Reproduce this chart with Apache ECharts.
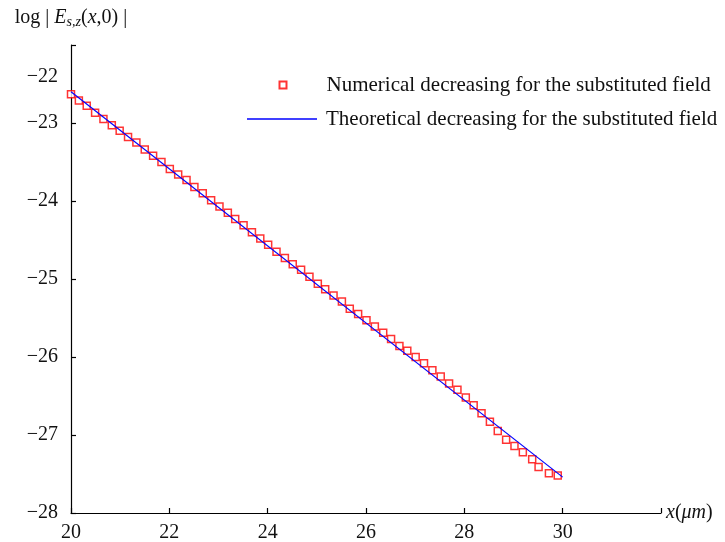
<!DOCTYPE html>
<html>
<head>
<meta charset="utf-8">
<script src="https://cdn.jsdelivr.net/npm/echarts@6/dist/echarts.min.js"></script>
<style>
  html, body { margin: 0; padding: 0; background: #fff; }
  #chart { width: 725px; height: 542px; }
</style>
</head>
<body>
<div id="chart"></div>
<script>
// numerical decreasing (squares)
var numX = [
  20.00, 20.16, 20.32, 20.49, 20.66, 20.83, 20.99, 21.16, 21.33, 21.50,
  21.67, 21.84, 22.01, 22.18, 22.35, 22.51, 22.68, 22.85, 23.02, 23.19,
  23.34, 23.51, 23.68, 23.85, 24.01, 24.18, 24.35, 24.51, 24.68, 24.85,
  25.02, 25.17, 25.34, 25.51, 25.67, 25.84, 26.01, 26.18, 26.35, 26.51,
  26.68, 26.84, 27.01, 27.18, 27.35, 27.52, 27.69, 27.86, 28.03, 28.19,
  28.35, 28.52, 28.68, 28.85, 29.02, 29.19, 29.38, 29.51, 29.72, 29.90
]
var numY = [
  -22.63, -22.71, -22.78, -22.87, -22.95, -23.03, -23.10, -23.18, -23.25, -23.34,
  -23.42, -23.50, -23.59, -23.66, -23.73, -23.82, -23.90, -23.99, -24.07, -24.15,
  -24.23, -24.31, -24.40, -24.48, -24.56, -24.65, -24.73, -24.81, -24.88, -24.97,
  -25.06, -25.13, -25.21, -25.29, -25.38, -25.45, -25.53, -25.61, -25.69, -25.77,
  -25.86, -25.92, -26.00, -26.08, -26.17, -26.25, -26.34, -26.42, -26.52, -26.62,
  -26.72, -26.83, -26.95, -27.06, -27.14, -27.22, -27.31, -27.41, -27.49, -27.52
]
// theoretical decreasing (straight line)
var theoX = [20, 30]
var theoY = [-22.60, -27.54]

var xTicks = [20, 22, 24, 26, 28, 30]
var yTicks = [-28, -27, -26, -25, -24, -23, -22]

var seriesNames = [
  'Numerical decreasing for the substituted field',
  'Theoretical decreasing for the substituted field'
]

function zip(xs, ys) {
  return xs.map(function (x, i) { return [x, ys[i]] })
}

var font = '"Liberation Serif", "Times New Roman", serif'
var ink = '#111'
var chart = echarts.init(document.getElementById('chart'))

function legendText(padLeft) {
  return {
    fontFamily: font,
    fontSize: 21,
    color: ink,
    lineHeight: 22,
    padding: [0, 0, 0, padLeft]
  }
}

var option = {
  backgroundColor: '#fff',
  animation: false,
  textStyle: { fontFamily: font },
  grid: { left: 71, right: 64, top: 45, bottom: 29, outerBoundsMode: 'none' },
  // two legends so the square and the line get their own icon widths
  legend: [
    {
      left: 273.5,
      top: 69,
      itemWidth: 7,
      itemHeight: 7,
      data: [{ name: seriesNames[0], icon: 'rect' }],
      textStyle: legendText(35)
    },
    {
      left: 242,
      top: 103,
      itemWidth: 70,
      itemHeight: 1.3,
      data: [{ name: seriesNames[1], icon: 'rect' }],
      textStyle: legendText(4)
    }
  ],
  xAxis: {
    type: 'value',
    min: 20,
    max: 32,
    interval: 2,
    name: '{i|x}{n|(}{i|μm}{n|)}',
    nameLocation: 'end',
    nameGap: 5,
    nameTextStyle: {
      rich: {
        i: { fontFamily: font, fontSize: 20, fontStyle: 'italic', color: ink },
        n: { fontFamily: font, fontSize: 20, color: ink }
      }
    },
    splitLine: { show: false },
    axisLine: { lineStyle: { color: '#000', width: 1.2 } },
    axisTick: { inside: true, length: 5, lineStyle: { color: '#000', width: 1.2 } },
    axisLabel: {
      margin: 10,
      fontSize: 20,
      color: ink,
      formatter: function (v) {
        return xTicks.indexOf(v) >= 0 ? String(v) : ''
      }
    }
  },
  yAxis: {
    type: 'value',
    min: -28,
    max: -22,
    interval: 1,
    name: '{n|log | }{i|E}{sub|s,z}{n|(}{i|x}{n|,0) |}',
    nameLocation: 'end',
    nameGap: 16,
    nameTextStyle: {
      rich: {
        n: { fontFamily: font, fontSize: 20, color: ink },
        i: { fontFamily: font, fontSize: 20, fontStyle: 'italic', color: ink },
        sub: { fontFamily: font, fontSize: 14, fontStyle: 'italic', color: ink, padding: [9, 0, 0, 0] }
      }
    },
    splitLine: { show: false },
    axisLine: { lineStyle: { color: '#000', width: 1.2 } },
    axisTick: { inside: true, length: 5, lineStyle: { color: '#000', width: 1.2 } },
    axisLabel: {
      margin: 13,
      fontSize: 20,
      color: ink,
      formatter: function (v) {
        if (yTicks.indexOf(v) < 0) return ''
        var s = '\u2212' + Math.abs(v)
        // top label sits lower than its tick in the original figure
        return v === -22 ? '{lo|' + s + '}' : s
      },
      rich: {
        lo: { fontFamily: font, fontSize: 20, color: ink, padding: [64, 0, 0, 0] }
      }
    }
  },
  series: [
    {
      name: seriesNames[0],
      type: 'scatter',
      symbol: 'rect',
      symbolSize: 7,
      itemStyle: { color: '#fff', borderColor: '#ff0000', borderWidth: 1.5 },
      data: zip(numX, numY),
      z: 3
    },
    {
      name: seriesNames[1],
      type: 'line',
      symbol: 'none',
      showSymbol: false,
      lineStyle: { color: '#0000ff', width: 1.2 },
      itemStyle: { color: '#0000ff' },
      data: zip(theoX, theoY),
      z: 4
    }
  ]
}

chart.setOption(option)
</script>
</body>
</html>
